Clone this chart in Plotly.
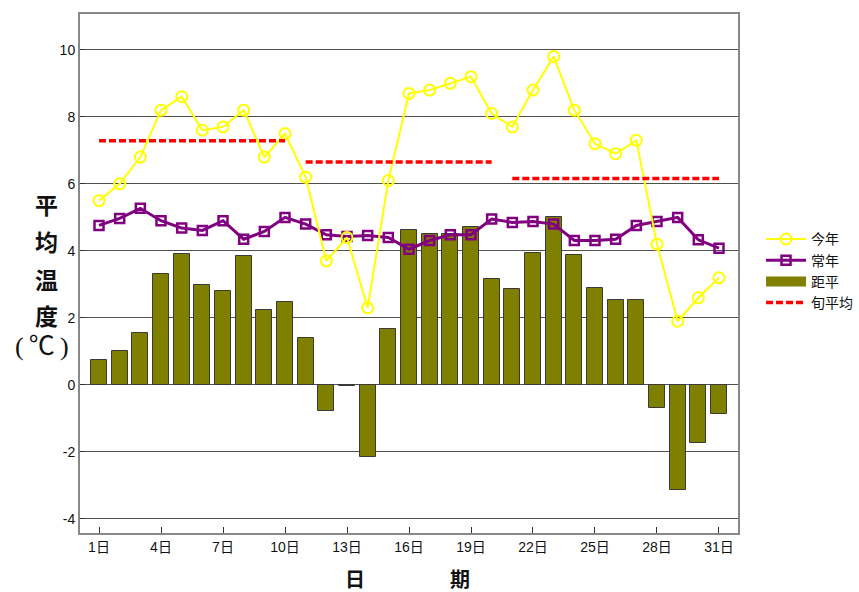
import plotly.graph_objects as go

days = list(range(1, 32))
this_year = [5.5, 6.0, 6.8, 8.2, 8.6, 7.6, 7.7, 8.2, 6.8, 7.5,
             6.2, 3.7, 4.4, 2.3, 6.1, 8.7, 8.8, 9.0, 9.2, 8.1,
             7.7, 8.8, 9.8, 8.2, 7.2, 6.9, 7.3, 4.2, 1.9, 2.6, 3.2]
normal = [4.76, 4.97, 5.27, 4.9, 4.68, 4.61, 4.9, 4.35, 4.58, 5.0,
          4.8, 4.48, 4.43, 4.46, 4.4, 4.05, 4.31, 4.48, 4.48, 4.95,
          4.85, 4.88, 4.8, 4.31, 4.31, 4.35, 4.76, 4.88, 5.0, 4.33, 4.08]
anomaly = [0.73, 1.02, 1.54, 3.3, 3.9, 2.99, 2.79, 3.85, 2.23, 2.48,
           1.4, -0.79, -0.03, -2.16, 1.68, 4.63, 4.49, 4.5, 4.72, 3.15,
           2.87, 3.93, 5.0, 3.88, 2.89, 2.54, 2.52, -0.68, -3.13, -1.74, -0.88]
dekad_start = [1, 11, 21]
dekad_end = [10, 20, 31]
dekad_mean = [7.29, 6.65, 6.16]

tick_days = [1, 4, 7, 10, 13, 16, 19, 22, 25, 28, 31]
tick_text = [f"{d}日" for d in tick_days]
y_ticks = [-4, -2, 0, 2, 4, 6, 8, 10]
y_tick_text = [str(v) for v in y_ticks]

dx, dy = [], []
for s, e, m in zip(dekad_start, dekad_end, dekad_mean):
    dx += [s, e, None]
    dy += [m, m, None]

fig = go.Figure()
fig.add_trace(go.Bar(x=days, y=anomaly, name="距平", width=0.78, showlegend=False,
                     marker=dict(color="#808000", line=dict(color="#3a3a3a", width=1))))
fig.add_trace(go.Scatter(x=days, y=normal, name="常年", mode="lines+markers",
                         line=dict(color="#800080", width=3),
                         marker=dict(symbol="square-open", size=9, color="#800080",
                                     line=dict(width=2.5, color="#800080")),
                         legendrank=2))
fig.add_trace(go.Scatter(x=days, y=this_year, name="今年", mode="lines+markers",
                         line=dict(color="#FFFF00", width=2),
                         marker=dict(symbol="circle-open", size=11, color="#FFFF00",
                                     line=dict(width=2, color="#FFFF00")),
                         legendrank=1))
# legend stand-in for the anomaly bars (wide olive swatch)
fig.add_trace(go.Scatter(x=[None], y=[None], name="距平", mode="lines",
                         line=dict(color="#808000", width=18), legendrank=3))
fig.add_trace(go.Scatter(x=dx, y=dy, name="旬平均", mode="lines",
                         line=dict(color="#FF0000", width=3.5, dash="7px,3px"),
                         legendrank=4))

cjk = "Noto Sans CJK SC"
fig.update_layout(
    width=859, height=592,
    margin=dict(l=80, r=121, t=14, b=59, autoexpand=False),
    paper_bgcolor="white", plot_bgcolor="white",
    font=dict(family="Liberation Sans, Arial, " + cjk, size=14, color="#111"),
    showlegend=True,
    legend=dict(x=1.035, y=0.505, xanchor="left", yanchor="middle",
                font=dict(family=cjk, size=14, color="#111"),
                tracegroupgap=0, itemwidth=40, bgcolor="rgba(0,0,0,0)"),
    bargap=0,
    xaxis=dict(range=[0.08, 31.92], tickmode="array", tickvals=tick_days, ticktext=tick_text,
               ticks="inside", ticklen=6, tickcolor="#333", showgrid=False,
               showline=True, linecolor="#888", linewidth=2, mirror=True, zeroline=False,
               tickfont=dict(size=14)),
    yaxis=dict(range=[-4.42, 11.07], tickmode="array", tickvals=y_ticks, ticktext=y_tick_text,
               ticks="inside", ticklen=5, tickcolor="#333",
               showgrid=True, gridcolor="#505050", gridwidth=1,
               showline=True, linecolor="#888", linewidth=2, mirror=True,
               zeroline=False, tickfont=dict(size=14)),
)

ann = []
for ch, yp in zip(["平", "均", "温", "度"], [204, 241, 279, 315]):
    ann.append(dict(text="<b>" + ch + "</b>", x=46, y=yp, size=23, fam=cjk))
ann.append(dict(text="(&#8201;℃&#8201;)", x=42, y=346, size=26,
                fam="Liberation Serif, " + cjk))
ann.append(dict(text="<b>日</b>", x=355, y=578, size=20, fam=cjk))
ann.append(dict(text="<b>期</b>", x=460, y=578, size=20, fam=cjk))
for a in ann:
    fig.add_annotation(text=a["text"], xref="paper", yref="paper",
                       x=(a["x"] - 80) / 658, y=(533 - a["y"]) / 519,
                       xanchor="center", yanchor="middle", showarrow=False,
                       font=dict(family=a["fam"], size=a["size"], color="#111"))

fig.write_html("out.html", config={"displayModeBar": False},
               post_script="document.body.style.margin='0';")
